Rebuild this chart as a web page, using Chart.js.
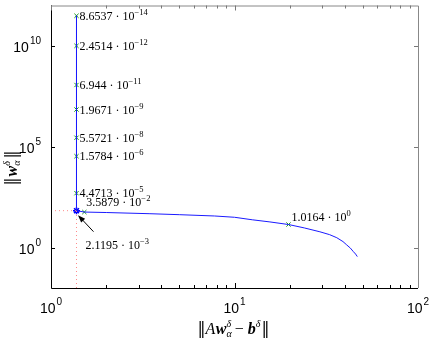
<!DOCTYPE html>
<html>
<head>
<meta charset="utf-8">
<script src="https://cdn.jsdelivr.net/npm/chart.js@4.4.0/dist/chart.umd.min.js"></script>
<style>
  body { margin: 0; background: #fff; }
  #wrap { width: 429px; height: 338px; position: relative; }
</style>
</head>
<body>
<div id="wrap"><canvas id="lcurve"></canvas></div>
<script>
// L-curve: residual norm vs solution norm
const curveX = [1.377, 1.377, 1.377, 1.377, 1.377, 1.377, 1.377, 1.377, 1.52, 2.0, 3.46, 5.0, 7.8, 10, 12.5, 15.6, 19.7, 24, 29.2, 33, 36.1, 39, 40.9, 42.8, 44.4, 45.7, 46.7];
const curveY = [3.1e11, 1.0e10, 1.15e8, 7.0e6, 2.8e5, 3.4e4, 500, 68, 58, 55, 48, 43, 37, 32, 24, 18.8, 14, 9.5, 6.1, 4.4, 3.1, 2.0, 1.36, 0.95, 0.64, 0.48, 0.36];

// marked regularisation parameters
const markX = [1.377, 1.377, 1.377, 1.377, 1.377, 1.377, 1.377, 1.52, 19.7];
const markY = [3.1e11, 1.0e10, 1.15e8, 7.0e6, 2.8e5, 3.4e4, 500, 58, 14];
const markMant = ["8.6537", "2.4514", "6.944", "1.9671", "5.5721", "1.5784", "4.4713", "3.5879", "1.0164"];
const markExp = ["\u221214", "\u221212", "\u221211", "\u22129", "\u22128", "\u22126", "\u22125", "\u22122", "0"];

// chosen corner
const cornerX = 1.377;
const cornerY = 68;
const cornerMant = "2.1195";
const cornerExp = "\u22123";

const xTicks = [1, 10, 100];
const yTicks = [1, 1e5, 1e10];
const tickExpX = ["0", "1", "2"];
const tickExpY = ["0", "5", "10"];

const SERIF = "'Liberation Serif', serif";
const SANS = "'Liberation Sans', Arial, sans-serif";
const BARS = "'DejaVu Serif', serif";

// draws a list of text pieces left to right
function drawRich(ctx, segs, x, y, align) {
  let total = 0;
  segs.forEach((s) => {
    ctx.font = s.f;
    s.w = ctx.measureText(s.t).width;
    if (s.t2 !== undefined) {
      s.w = Math.max(s.w, ctx.measureText(s.t2).width);
    }
    total += s.w + (s.gap || 0);
  });
  let cx = x;
  if (align === "center") cx = x - total / 2;
  if (align === "right") cx = x - total;
  ctx.textAlign = "left";
  ctx.textBaseline = "alphabetic";
  segs.forEach((s) => {
    ctx.font = s.f;
    ctx.fillText(s.t, cx, y + (s.dy || 0));
    if (s.t2 !== undefined) ctx.fillText(s.t2, cx, y + s.dy2);
    cx += s.w + (s.gap || 0);
  });
}

function sciLabel(mant, exp) {
  return [
    { t: mant + " \u00b7 10", f: "12px " + SERIF },
    { t: exp, f: "8.5px " + SERIF, dy: -5, gap: 0 },
  ];
}

const decor = {
  id: "decor",
  afterDatasetsDraw(chart) {
    const ctx = chart.ctx;
    const a = chart.chartArea;
    const xs = chart.scales.x;
    const ys = chart.scales.y;
    ctx.save();

    // frame
    ctx.lineWidth = 1;
    ctx.strokeStyle = "#888";
    ctx.beginPath();
    ctx.moveTo(a.left, a.top + 0.5);
    ctx.lineTo(a.right + 0.5, a.top + 0.5);
    ctx.lineTo(a.right + 0.5, a.bottom);
    ctx.stroke();
    ctx.strokeStyle = "#000";
    ctx.beginPath();
    ctx.moveTo(a.left + 0.5, a.top);
    ctx.lineTo(a.left + 0.5, a.bottom + 0.5);
    ctx.lineTo(a.right, a.bottom + 0.5);
    ctx.stroke();

    // x ticks (inward, bottom and top)
    for (let d = 1; d < 100; d *= 10) {
      for (let m = 1; m <= 9; m++) {
        const v = d * m;
        const px = Math.round(xs.getPixelForValue(v)) + 0.5;
        const len = m === 1 ? 5 : 3;
        ctx.strokeStyle = "#000";
        ctx.beginPath();
        ctx.moveTo(px, a.bottom);
        ctx.lineTo(px, a.bottom - len);
        ctx.stroke();
        ctx.strokeStyle = "#777";
        ctx.beginPath();
        ctx.moveTo(px, a.top);
        ctx.lineTo(px, a.top + len);
        ctx.stroke();
      }
    }
    // y ticks
    yTicks.forEach((v) => {
      const py = Math.round(ys.getPixelForValue(v)) + 0.5;
      ctx.strokeStyle = "#000";
      ctx.beginPath();
      ctx.moveTo(a.left, py);
      ctx.lineTo(a.left + 4, py);
      ctx.stroke();
      ctx.strokeStyle = "#777";
      ctx.beginPath();
      ctx.moveTo(a.right, py);
      ctx.lineTo(a.right - 4, py);
      ctx.stroke();
    });

    // tick labels
    ctx.fillStyle = "#000";
    xTicks.forEach((v, i) => {
      const px = xs.getPixelForValue(v);
      drawRich(ctx, [
        { t: "10", f: "14px " + SANS, gap: 1 },
        { t: tickExpX[i], f: "10px " + SANS, dy: -8 },
      ], px, a.bottom + 25, "center");
    });
    yTicks.forEach((v, i) => {
      const py = ys.getPixelForValue(v);
      drawRich(ctx, [
        { t: "10", f: "14px " + SANS, gap: 1 },
        { t: tickExpY[i], f: "10px " + SANS, dy: -8 },
      ], a.left - 10, py + 6, "right");
    });

    // axis titles
    const bi = "italic bold 16px " + SERIF;
    const bars = "16px " + BARS;
    drawRich(ctx, [
      { t: "\u2016", f: bars },
      { t: "A", f: "italic 16px " + SERIF, gap: 0.5 },
      { t: "w", f: bi },
      { t: "\u03b1", f: "italic 10px " + SERIF, dy: 3, t2: "\u03b4", dy2: -7, gap: 3 },
      { t: "\u2212 ", f: "16px " + SERIF },
      { t: "b", f: bi },
      { t: "\u03b4", f: "italic 10px " + SERIF, dy: -7, gap: 1 },
      { t: "\u2016", f: bars },
    ], (a.left + a.right) / 2 - 1, a.bottom + 46, "center");

    ctx.save();
    ctx.translate(17, 168);
    ctx.rotate(-Math.PI / 2);
    drawRich(ctx, [
      { t: "\u2016", f: bars, gap: 1 },
      { t: "w", f: bi },
      { t: "\u03b1", f: "italic 10px " + SERIF, dy: 3, t2: "\u03b4", dy2: -7, gap: 2 },
      { t: "\u2016", f: bars },
    ], 0, 0, "center");
    ctx.restore();

    // point labels
    markX.forEach((xv, i) => {
      const px = xs.getPixelForValue(xv);
      const py = ys.getPixelForValue(markY[i]);
      let dx = 3, dy = 4;
      if (i === 7) { dx = 2; dy = -6; }
      if (i === 8) { dx = 3; dy = -4; }
      drawRich(ctx, sciLabel(markMant[i], markExp[i]), px + dx, py + dy, "left");
    });

    // corner label with arrow
    const cx = xs.getPixelForValue(cornerX);
    const cy = ys.getPixelForValue(cornerY);
    drawRich(ctx, sciLabel(cornerMant, cornerExp), cx + 9, cy + 38, "left");
    const tx = cx + 17, ty = cy + 21;
    const hx = cx + 1.5, hy = cy + 4.5;
    const ang = Math.atan2(hy - ty, hx - tx);
    ctx.strokeStyle = "#000";
    ctx.lineWidth = 1;
    ctx.beginPath();
    ctx.moveTo(tx, ty);
    ctx.lineTo(hx - 5 * Math.cos(ang), hy - 5 * Math.sin(ang));
    ctx.stroke();
    ctx.beginPath();
    ctx.moveTo(hx, hy);
    ctx.lineTo(hx - 8 * Math.cos(ang - 0.35), hy - 8 * Math.sin(ang - 0.35));
    ctx.lineTo(hx - 8 * Math.cos(ang + 0.35), hy - 8 * Math.sin(ang + 0.35));
    ctx.closePath();
    ctx.fillStyle = "#000";
    ctx.fill();

    ctx.restore();
  },
};

const ctx = document.getElementById("lcurve");
new Chart(ctx, {
  type: "scatter",
  data: {
    datasets: [
      {
        data: [{ x: cornerX, y: 0.01 }, { x: cornerX, y: cornerY }],
        showLine: true,
        borderColor: "#ff8a8a",
        borderWidth: 1,
        borderDash: [1, 3],
        pointRadius: 0,
      },
      {
        data: [{ x: 1, y: cornerY }, { x: cornerX, y: cornerY }],
        showLine: true,
        borderColor: "#ff8a8a",
        borderWidth: 1,
        borderDash: [1, 3],
        pointRadius: 0,
      },
      {
        data: curveX.map((x, i) => ({ x: x, y: curveY[i] })),
        showLine: true,
        borderColor: "#1a1aff",
        borderWidth: 1,
        pointRadius: 0,
        tension: 0,
      },
      {
        data: markX.map((x, i) => ({ x: x, y: markY[i] })),
        showLine: false,
        pointStyle: "crossRot",
        pointRadius: 3,
        borderColor: "#1a9a1a",
        borderWidth: 1,
      },
      {
        data: [{ x: cornerX, y: cornerY }],
        showLine: false,
        pointStyle: "star",
        pointRadius: 3.5,
        borderColor: "#0000ff",
        borderWidth: 1.5,
      },
    ],
  },
  options: {
    responsive: true,
    maintainAspectRatio: false,
    animation: false,
    layout: { padding: { left: 51, right: 11, top: 3, bottom: 50 } },
    plugins: { legend: { display: false }, tooltip: { enabled: false } },
    scales: {
      x: { type: "logarithmic", min: 1, max: 100, display: false },
      y: { type: "logarithmic", min: 0.01, max: 1e12, display: false },
    },
  },
  plugins: [decor],
});
</script>
</body>
</html>
